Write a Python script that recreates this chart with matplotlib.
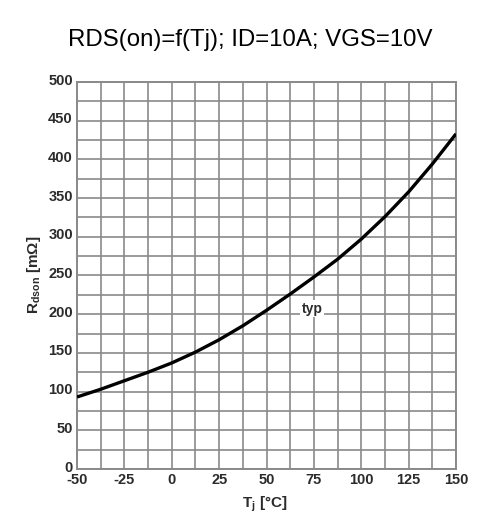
"""RDS(on) versus junction temperature, typical curve."""

import matplotlib

matplotlib.use("Agg")
import matplotlib.pyplot as plt
import numpy as np

TJ = [-50, -37.5, -25, -12.5, 0, 12.5, 25, 37.5, 50, 62.5, 75, 87.5, 100, 112.5, 125, 137.5, 150]
RDSON = [93, 103, 114, 125, 137, 151, 167, 185, 205, 226, 248, 271, 297, 326, 358, 394, 433]
X_TICKS = [-50, -25, 0, 25, 50, 75, 100, 125, 150]
Y_TICKS = [0, 50, 100, 150, 200, 250, 300, 350, 400, 450, 500]
TITLE = "RDS(on)=f(Tj); ID=10A; VGS=10V"

plt.rcParams["font.family"] = ["Liberation Sans", "DejaVu Sans"]
plt.rcParams["mathtext.fontset"] = "custom"
plt.rcParams["mathtext.rm"] = "Liberation Sans:bold"
plt.rcParams["mathtext.it"] = "Liberation Sans:bold"
plt.rcParams["mathtext.bf"] = "Liberation Sans:bold"

GRID = "#8a8a8a"
TEXT = "#2b2b2b"

fig = plt.figure(figsize=(5.0, 5.26), dpi=100)
ax = fig.add_axes([0.154, 0.1084, 0.758, 0.7357])

ax.set_xlim(-50, 150)
ax.set_ylim(0, 500)
ax.set_xticks(np.arange(-50, 150.1, 12.5))
ax.set_yticks(np.arange(0, 500.1, 25))
ax.grid(True, color=GRID, linewidth=1.2)
ax.tick_params(length=0, labelbottom=False, labelleft=False)
for spine in ax.spines.values():
    spine.set_color(GRID)
    spine.set_linewidth(1.4)

ax.plot(TJ, RDSON, color="black", linewidth=2.4, solid_capstyle="butt", zorder=3)

# tick labels placed by hand so the grid can be finer than the labels
for x in X_TICKS:
    ax.annotate(str(x), (x, 0), xytext=(0, -3), textcoords="offset points",
                ha="center", va="top", fontsize=10.5, fontweight="bold", color=TEXT)
for y in Y_TICKS:
    ax.annotate(str(y), (-50, y), xytext=(-3, 1), textcoords="offset points",
                ha="right", va="center", fontsize=10.5, fontweight="bold", color=TEXT)

ax.text(74, 207, "typ", ha="center", va="center", fontsize=10, fontweight="bold",
        color=TEXT, zorder=4,
        bbox=dict(facecolor="white", edgecolor="none", pad=1.2))

fig.text(0.5, 0.924, TITLE, ha="center", va="center", fontsize=17.3, color="black")
fig.text(0.53, 0.042, r"T$_{\rm j}$ [°C]", ha="center", va="center",
         fontsize=11, fontweight="bold", color=TEXT)
fig.text(0.068, 0.478, r"R$_{\rm dson}$ [mΩ]", ha="center", va="center",
         rotation=90, fontsize=11, fontweight="bold", color=TEXT)

fig.savefig("out.png", dpi=100)
